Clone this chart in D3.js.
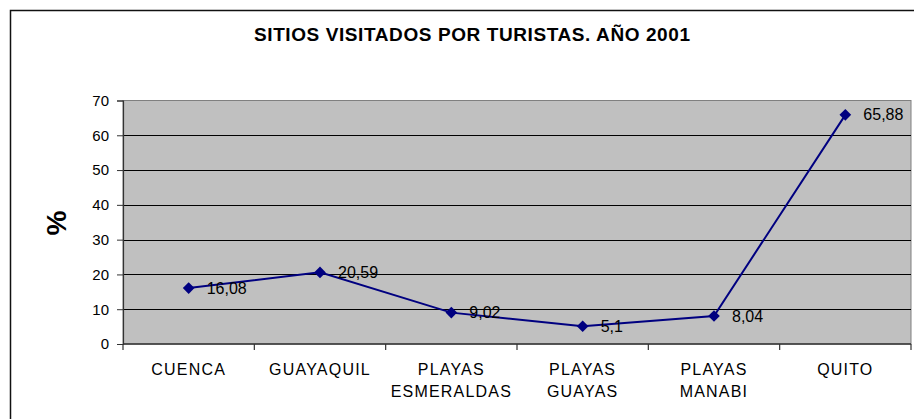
<!DOCTYPE html>
<html>
<head>
<meta charset="utf-8">
<script src="https://cdn.jsdelivr.net/npm/d3@7"></script>
<style>
  body { margin: 0; background: #fff; }
  svg { display: block; font-family: Arial, "Liberation Sans", sans-serif; }
</style>
</head>
<body>
<svg id="chart" width="914" height="419"></svg>
<script>
// chart data
const categories = ["CUENCA", "GUAYAQUIL", "PLAYAS ESMERALDAS", "PLAYAS GUAYAS", "PLAYAS MANABI", "QUITO"];
const values = [16.08, 20.59, 9.02, 5.1, 8.04, 65.88];
const yTicks = [0, 10, 20, 30, 40, 50, 60, 70];
const title = "SITIOS VISITADOS POR TURISTAS. AÑO 2001";

const width = 914;
const height = 419;
const plot = { left: 123, right: 911, top: 100.5, bottom: 344 };

const svg = d3.select("#chart");

// outer frame of the chart (runs off the right and bottom edges)
svg.append("rect")
  .attr("x", 10.5).attr("y", 10.5)
  .attr("width", 1000).attr("height", 1000)
  .attr("fill", "none")
  .attr("stroke", "#111")
  .attr("stroke-width", 1.5);

// title
svg.append("text")
  .attr("x", 472).attr("y", 41)
  .attr("text-anchor", "middle")
  .attr("font-size", 19)
  .attr("font-weight", "bold")
  .attr("textLength", 436)
  .attr("lengthAdjust", "spacing")
  .text(title);

const x = d3.scaleBand()
  .domain(categories)
  .range([plot.left, plot.right]);

const y = d3.scaleLinear()
  .domain([0, 70])
  .range([plot.bottom, plot.top]);

// plot background
svg.append("rect")
  .attr("x", plot.left).attr("y", plot.top)
  .attr("width", plot.right - plot.left)
  .attr("height", plot.bottom - plot.top)
  .attr("fill", "#c0c0c0")
  .attr("stroke", "#808080")
  .attr("stroke-width", 1);

// horizontal gridlines
svg.append("g")
  .selectAll("line")
  .data(yTicks.filter(t => t > 0 && t < 70))
  .join("line")
  .attr("x1", plot.left).attr("x2", plot.right)
  .attr("y1", d => Math.round(y(d)) + 0.5)
  .attr("y2", d => Math.round(y(d)) + 0.5)
  .attr("stroke", "#000")
  .attr("stroke-width", 1);

// y axis
const yAxis = d3.axisLeft(y).tickValues(yTicks).tickSize(6).tickPadding(8);
const yg = svg.append("g")
  .attr("transform", `translate(${plot.left},0)`)
  .call(yAxis);
yg.select(".domain").attr("stroke", "#333").attr("stroke-width", 1.2);
yg.selectAll(".tick line").attr("stroke", "#333");
yg.selectAll(".tick text")
  .attr("font-size", 15)
  .attr("font-family", "Arial, 'Liberation Sans', sans-serif")
  .attr("fill", "#000");

// x axis: ticks at band edges
const edges = categories.map(c => x(c)).concat([plot.right]);
const xg = svg.append("g");
xg.append("line")
  .attr("x1", plot.left).attr("x2", plot.right)
  .attr("y1", plot.bottom).attr("y2", plot.bottom)
  .attr("stroke", "#333").attr("stroke-width", 1.5);
xg.selectAll(".xtick")
  .data(edges)
  .join("line")
  .attr("class", "xtick")
  .attr("x1", d => d).attr("x2", d => d)
  .attr("y1", plot.bottom).attr("y2", plot.bottom + 6)
  .attr("stroke", "#333").attr("stroke-width", 1.2);

// category labels, wrapped on spaces
xg.selectAll(".xlabel")
  .data(categories)
  .join("text")
  .attr("class", "xlabel")
  .attr("x", d => x(d) + x.bandwidth() / 2)
  .attr("y", 375)
  .attr("text-anchor", "middle")
  .attr("font-size", 16)
  .attr("letter-spacing", 1.2)
  .each(function (d) {
    const t = d3.select(this);
    const cx = x(d) + x.bandwidth() / 2;
    d.split(" ").forEach((w, i) => {
      t.append("tspan")
        .attr("x", cx)
        .attr("dy", i === 0 ? 0 : 22)
        .text(w);
    });
  });

// y axis title
svg.append("text")
  .attr("transform", "translate(66,223) rotate(-90)")
  .attr("text-anchor", "middle")
  .attr("font-size", 28)
  .attr("font-weight", "bold")
  .text("%");

// line
const pts = categories.map((c, i) => ({ c, v: values[i] }));
const line = d3.line()
  .x(d => x(d.c) + x.bandwidth() / 2)
  .y(d => y(d.v));

svg.append("path")
  .datum(pts)
  .attr("d", line)
  .attr("fill", "none")
  .attr("stroke", "#000080")
  .attr("stroke-width", 2);

// diamond markers
svg.append("g")
  .selectAll("path")
  .data(pts)
  .join("path")
  .attr("transform", d => `translate(${x(d.c) + x.bandwidth() / 2},${y(d.v)}) rotate(45)`)
  .attr("d", d3.symbol(d3.symbolSquare, 68))
  .attr("fill", "#000080");

// value labels
svg.append("g")
  .selectAll("text")
  .data(pts)
  .join("text")
  .attr("x", d => x(d.c) + x.bandwidth() / 2 + 18)
  .attr("y", d => y(d.v) + 5.5)
  .attr("font-size", 16)
  .attr("fill", "#000")
  .text(d => String(d.v).replace(".", ","));
</script>
</body>
</html>
